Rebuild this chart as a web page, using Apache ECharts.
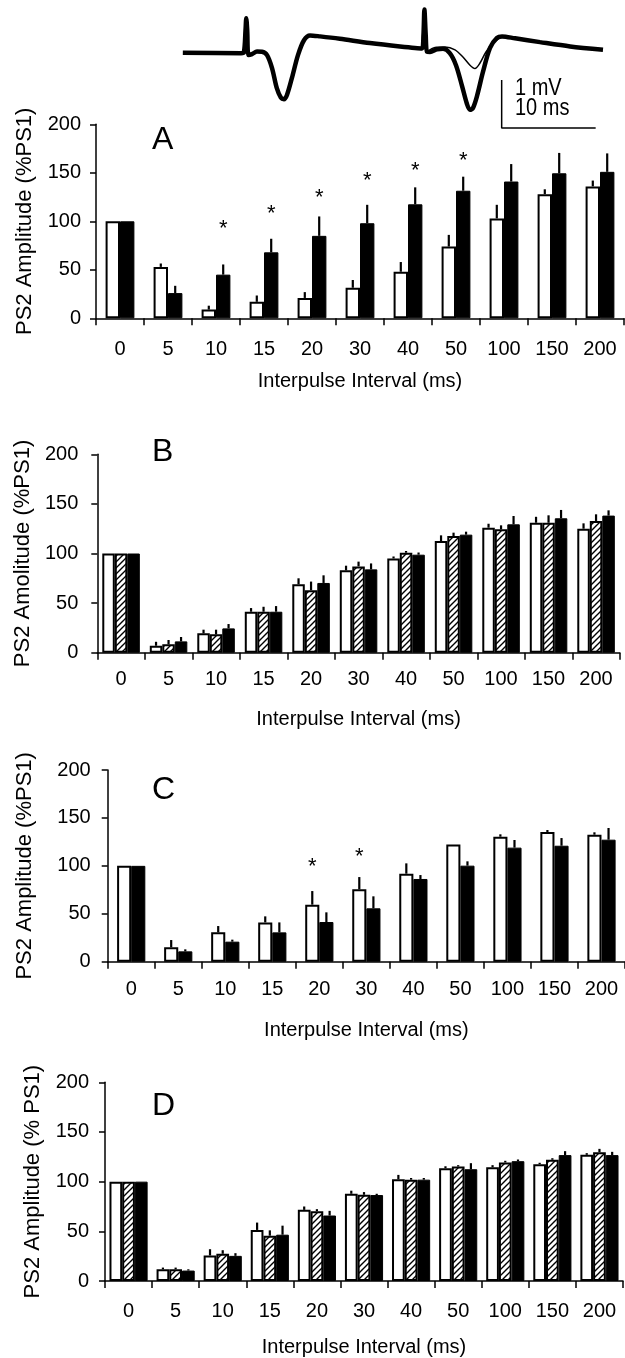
<!DOCTYPE html>
<html><head><meta charset="utf-8">
<script src="https://cdn.jsdelivr.net/npm/echarts@6/dist/echarts.min.js"></script>
<style>html,body{margin:0;padding:0;background:#fff}#c{width:625px;height:1358px}</style>
</head><body><div id="c"></div>
<script>
const categories = ['0','5','10','15','20','30','40','50','100','150','200'];
const yTicks = [0, 50, 100, 150, 200];

// Panel A (open = control, filled = treated)
const aOpen = [100, 53, 9, 17, 21, 31.5, 48, 74, 103, 128, 136];
const aOpenErr = [0, 3.5, 4, 6.5, 6, 8, 10, 12, 14, 5, 6];
const aFilled = [100, 26, 45, 68, 85, 98, 117.5, 131.5, 141, 149.5, 151];
const aFilledErr = [0, 7.5, 10.5, 14, 20, 19, 17.5, 14.5, 18, 21, 19];
const aStars = [null, null, 97, 113, 129, 147, 157, 167, null, null, null];

// Panel B
const bOpen = [100, 7, 19.5, 41.3, 69, 83, 95, 112.6, 126, 131, 125];
const bOpenErr = [0, 4, 3.7, 3.7, 6, 4.7, 2, 5.7, 4, 6, 5.4];
const bHatched = [100, 8.4, 18.5, 41.3, 63, 87, 100.8, 117.6, 124.4, 131, 132.8];
const bHatchedErr = [0, 4.4, 4.7, 5, 8.7, 4.8, 1.7, 3.4, 4, 7.5, 6.7];
const bFilled = [100, 11.4, 24.5, 41.3, 70.3, 84, 98.8, 119, 129.4, 135.5, 138.2];
const bFilledErr = [0, 4.4, 4.4, 5.7, 7.7, 6, 2.2, 3, 8.4, 8.4, 5.3];

// Panel C
const cOpen = [100, 15, 30.6, 41, 59.5, 75.5, 91.8, 122.4, 130.4, 135.3, 132.5];
const cOpenErr = [0, 7.6, 6.6, 6.3, 14.2, 12.8, 10.8, 0, 2.5, 2.1, 2.5];
const cFilled = [100, 10.8, 20.9, 30.6, 41.4, 55.7, 86.3, 100.2, 119, 121, 127.3];
const cFilledErr = [0, 2.1, 2.1, 10.4, 10.1, 12.5, 4.1, 4.5, 8, 8, 12.2];
const cStars = [null, null, null, null, 104, 114, null, null, null, null, null];

// Panel D
const dOpen = [100, 11.8, 25.7, 51.4, 71.6, 87.8, 102.4, 113.5, 114.5, 117.6, 127];
const dOpenErr = [0, 1.7, 6.3, 7.4, 3.4, 3.1, 4.4, 2, 2.1, 1.4, 1.7];
const dHatched = [100, 11.8, 27.4, 45.6, 70.3, 86.8, 102, 115.2, 119.3, 122, 129.7];
const dHatchedErr = [0, 1.7, 3.6, 5.4, 2, 2.7, 1.7, 1.4, 1.7, 1.6, 3.3];
const dFilled = [100, 10.5, 25.3, 46.6, 65.9, 86.5, 102, 112.5, 120.6, 126.7, 126.7];
const dFilledErr = [0, 1.3, 2.7, 9.1, 4.7, 1.3, 1.7, 6.1, 1.7, 4, 3.3];

// Field potential traces (time ms, mV)
const traceMain = [[0.3,0],[6.5,-0.01],[6.8,0.01],[6.97,0.47],[7.05,0.72],[7.15,0.47],[7.29,-0.05],[7.66,-0.03],[8.19,0.025],[8.72,0.02],[9.26,-0.05],[9.79,-0.32],[10.3,-0.74],[10.74,-0.94],[11.06,-0.97],[11.38,-0.88],[11.9,-0.53],[12.55,-0.05],[13.19,0.26],[13.83,0.36],[14.9,0.34],[17.0,0.29],[20.2,0.2],[23.4,0.13],[25.74,0.09],[25.9,0.37],[26.0,0.9],[26.14,0.37],[26.28,0.02],[26.6,0.015],[27.34,0.07],[27.98,0.08],[28.7,-0.01],[29.36,-0.26],[30.0,-0.69],[30.53,-1.07],[30.85,-1.19],[31.17,-1.15],[31.6,-0.9],[32.23,-0.4],[32.98,0.1],[33.72,0.31],[34.26,0.34],[35.64,0.3],[38.3,0.22],[41.5,0.13],[45.0,0.06]];
const traceThin = [[26.28,0.02],[27.13,0.11],[28.2,0.12],[29.26,0.06],[30.1,-0.09],[30.85,-0.26],[31.38,-0.33],[31.9,-0.22],[32.55,0.015],[33.4,0.22],[34.26,0.33]];
const scaleBar = [[34.22,-0.569],[34.22,-1.569],[44.22,-1.569]];

const FONT = '"Liberation Sans", Arial, sans-serif';

function hatch() {
  const s = 6, cv = document.createElement('canvas');
  cv.width = s; cv.height = s;
  const g = cv.getContext('2d');
  g.fillStyle = '#fff'; g.fillRect(0,0,s,s);
  g.strokeStyle = '#000'; g.lineWidth = 1.4;
  g.beginPath();
  g.moveTo(-1, s+1); g.lineTo(s+1, -1);
  g.moveTo(-1, 1); g.lineTo(1, -1);
  g.moveTo(s-1, s+1); g.lineTo(s+1, s-1);
  g.stroke();
  return {image: cv, repeat: 'repeat'};
}
const hatchFill = hatch();

const panels = [
  {grid:{left:96, top:124.3, width:528, height:194}, gap:0.40, series:[[aOpen,aOpenErr,'open'],[aFilled,aFilledErr,'filled']], stars:[aStars,1], yname:'PS2 Amplitude (%PS1)', ynameGap:60, ylabMargin:15, xlabMargin:21, xnameGap:53, letter:'A', ly:140.5},
  {grid:{left:97.3, top:454.3, width:522.5, height:198.4}, gap:0.21, series:[[bOpen,bOpenErr,'open'],[bHatched,bHatchedErr,'hatch'],[bFilled,bFilledErr,'filled']], stars:null, yname:'PS2 Amolitude (%PS1)', ynameGap:61, ylabMargin:19, xlabMargin:17, xnameGap:57, letter:'B', ly:451.7},
  {grid:{left:107.7, top:770, width:520, height:191.7}, gap:0.40, series:[[cOpen,cOpenErr,'open'],[cFilled,cFilledErr,'filled']], stars:[cStars,0], yname:'PS2 Amplitude (%PS1)', ynameGap:72, ylabMargin:17, xlabMargin:18, xnameGap:59, letter:'C', ly:790},
  {grid:{left:105, top:1082.3, width:518, height:198.7}, gap:0.19, series:[[dOpen,dOpenErr,'open'],[dHatched,dHatchedErr,'hatch'],[dFilled,dFilledErr,'filled']], stars:null, yname:'PS2 Amplitude (% PS1)', ynameGap:61, ylabMargin:16, xlabMargin:20, xnameGap:56, letter:'D', ly:1106}
];

const grid = [], xAxis = [], yAxis = [], series = [], graphic = [];

panels.forEach((p, gi) => {
  grid.push(Object.assign({containLabel:false}, p.grid));
  xAxis.push({
    type:'category', gridIndex:gi, data:categories, boundaryGap:true,
    axisLine:{lineStyle:{color:'#000', width:1.5}},
    axisTick:{show:true, interval:0, length:7, lineStyle:{color:'#000', width:1.5}},
    axisLabel:{interval:0, color:'#000', fontSize:20, fontFamily:FONT, margin:p.xlabMargin},
    name:'Interpulse Interval (ms)', nameLocation:'middle', nameGap:p.xnameGap,
    nameTextStyle:{color:'#000', fontSize:20, fontFamily:FONT},
    splitLine:{show:false}
  });
  yAxis.push({
    type:'value', gridIndex:gi, min:yTicks[0], max:yTicks[yTicks.length-1], interval:50,
    axisLine:{show:true, lineStyle:{color:'#000', width:1.5}},
    axisTick:{show:true, length:6, lineStyle:{color:'#000', width:1.5}},
    axisLabel:{color:'#000', fontSize:20, fontFamily:FONT, margin:p.ylabMargin},
    splitLine:{show:false},
    name:p.yname, nameLocation:'middle', nameRotate:90, nameGap:p.ynameGap,
    nameTextStyle:{color:'#000', fontSize:22, fontFamily:FONT}
  });
  const n = p.series.length;
  p.series.forEach(([vals, errs, kind], si) => {
    series.push({
      type:'bar', xAxisIndex:gi, yAxisIndex:gi, data:vals,
      barGap:'0%', barCategoryGap:(p.gap*100)+'%',
      itemStyle:{
        color: kind==='open' ? '#fff' : (kind==='hatch' ? hatchFill : '#000'),
        borderColor:'#000', borderWidth: kind==='filled' ? 1 : 2
      },
      emphasis:{disabled:true}, silent:true, z:2
    });
    series.push({
      type:'custom', xAxisIndex:gi, yAxisIndex:gi, silent:true, z:3,
      data: vals.map((v,i)=>[i, v, errs[i]]),
      renderItem: (params, api) => {
        const c = api.value(0), v = api.value(1), e = api.value(2);
        if (!e) return null;
        const p0 = api.coord([c, v]), p1 = api.coord([c, v + e]);
        const catW = api.size([1, 0])[0];
        const gw = catW * (1 - p.gap), bw = gw / n;
        const x = p0[0] - gw/2 + bw*(si + 0.5);
        return {type:'line', shape:{x1:x, y1:p0[1], x2:x, y2:p1[1]}, style:{stroke:'#000', lineWidth:2.2}};
      }
    });
  });
  if (p.stars) {
    const [starVals, si] = p.stars;
    series.push({
      type:'custom', xAxisIndex:gi, yAxisIndex:gi, silent:true, z:4,
      data: starVals.map((v,i)=>[i, v]).filter(d=>d[1]!==null),
      renderItem: (params, api) => {
        const pt = api.coord([api.value(0), api.value(1)]);
        const catW = api.size([1, 0])[0];
        const gw = catW * (1 - p.gap), bw = gw / n;
        const x = pt[0] - gw/2 + bw*(si + 0.5);
        return {type:'text', x:x, y:pt[1] + 5, style:{text:'*', font:'22px ' + FONT, fill:'#000', align:'center', verticalAlign:'middle'}};
      }
    });
  }
  graphic.push({type:'text', x:152, y:p.ly, style:{text:p.letter, font:'32px ' + FONT, fill:'#000', verticalAlign:'middle'}});
});

// Trace grid
const tg = grid.length;
grid.push({left:180, top:4.7, width:423, height:124.8});
xAxis.push({type:'value', gridIndex:tg, min:0, max:45, show:false});
yAxis.push({type:'value', gridIndex:tg, min:-1.6, max:1.0, show:false});
series.push({type:'line', xAxisIndex:tg, yAxisIndex:tg, data:traceMain, showSymbol:false, smooth:0.3, lineStyle:{color:'#000', width:4.5}, silent:true});
series.push({type:'line', xAxisIndex:tg, yAxisIndex:tg, data:traceThin, showSymbol:false, smooth:0.3, lineStyle:{color:'#000', width:1.5}, silent:true});
series.push({type:'line', xAxisIndex:tg, yAxisIndex:tg, data:scaleBar, showSymbol:false, lineStyle:{color:'#000', width:1.5}, silent:true});
graphic.push({type:'text', x:515, y:88, scaleY:1.2, style:{text:'1 mV', font:'20px ' + FONT, fill:'#000', verticalAlign:'middle'}});
graphic.push({type:'text', x:515, y:108, scaleY:1.2, style:{text:'10 ms', font:'20px ' + FONT, fill:'#000', verticalAlign:'middle'}});

const chart = echarts.init(document.getElementById('c'), null, {renderer:'canvas'});
chart.setOption({animation:false, backgroundColor:'#fff', grid, xAxis, yAxis, series, graphic});
</script></body></html>
